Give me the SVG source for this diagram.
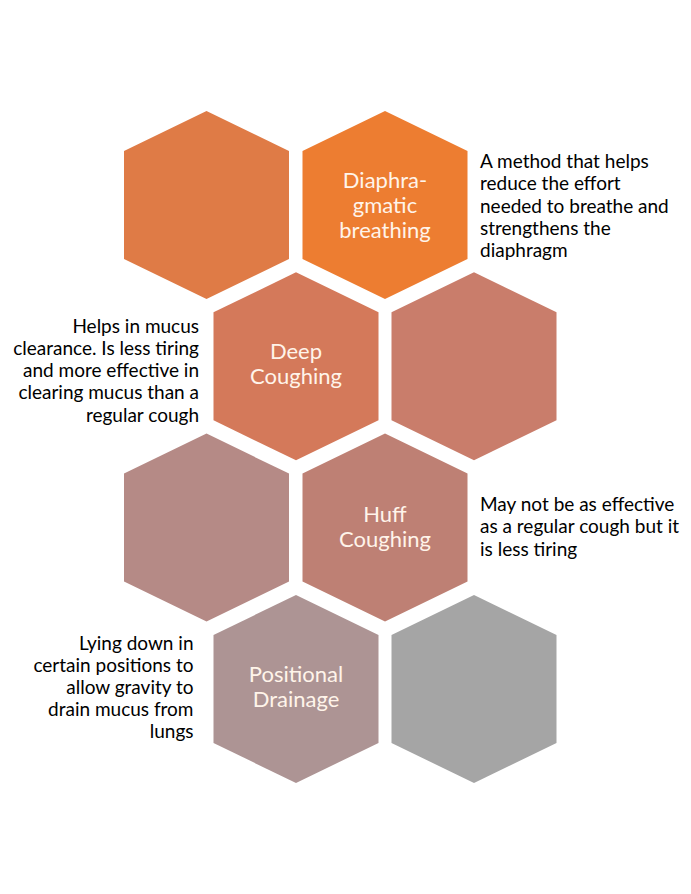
<svg xmlns="http://www.w3.org/2000/svg" width="691" height="894" viewBox="0 0 691 894">
<defs>
<polygon id="hex" points="0,-94 82.5,-54 82.5,54 0,94 -82.5,54 -82.5,-54"/>
</defs>
<style>
.lbl{font-family:Lato,"Open Sans",sans-serif;font-size:22px;fill:#FFF4EA;text-anchor:middle}
.desc{font-family:Lato,"Open Sans",sans-serif;font-size:19px;fill:#000}
.r{text-anchor:end}
</style>
<rect width="691" height="894" fill="#fff"/>
<g id="hex1"><use href="#hex" x="206.5" y="205" fill="#DF7B46"/></g>
<g id="diaphragmatic">
<use href="#hex" x="385" y="205" fill="#ED7D31"/>
<text class="lbl" x="385" y="188">Diaphra-</text>
<text class="lbl" x="385" y="213">gmatic</text>
<text class="lbl" x="385" y="238">breathing</text>
</g>
<g id="deep">
<use href="#hex" x="296" y="366.3" fill="#D4795A"/>
<text class="lbl" x="296" y="358.5">Deep</text>
<text class="lbl" x="296" y="383.5">Coughing</text>
</g>
<g id="hex4"><use href="#hex" x="474" y="366.3" fill="#C97D6B"/></g>
<g id="hex5"><use href="#hex" x="206.5" y="527.6" fill="#B58A86"/></g>
<g id="huff">
<use href="#hex" x="385" y="527.6" fill="#BE8074"/>
<text class="lbl" x="385" y="521.5">Huff</text>
<text class="lbl" x="385" y="546.5">Coughing</text>
</g>
<g id="positional">
<use href="#hex" x="296" y="689" fill="#AD9494"/>
<text class="lbl" x="296" y="681.5">Positional</text>
<text class="lbl" x="296" y="706.5">Drainage</text>
</g>
<g id="hex8"><use href="#hex" x="474" y="689" fill="#A5A5A5"/></g>
<g id="desc1">
<text class="desc" x="480" y="168">A method that helps</text>
<text class="desc" x="480" y="190.3">reduce the effort</text>
<text class="desc" x="480" y="212.6">needed to breathe and</text>
<text class="desc" x="480" y="234.9">strengthens the</text>
<text class="desc" x="480" y="257.2">diaphragm</text>
</g>
<g id="desc2">
<text class="desc r" x="199" y="332.5">Helps in mucus</text>
<text class="desc r" x="199" y="354.8">clearance. Is less tiring</text>
<text class="desc r" x="199" y="377.1">and more effective in</text>
<text class="desc r" x="199" y="399.4">clearing mucus than a</text>
<text class="desc r" x="199" y="421.7">regular cough</text>
</g>
<g id="desc3">
<text class="desc" x="480" y="511">May not be as effective</text>
<text class="desc" x="480" y="533.3">as a regular cough but it</text>
<text class="desc" x="480" y="555.6">is less tiring</text>
</g>
<g id="desc4">
<text class="desc r" x="193.5" y="650">Lying down in</text>
<text class="desc r" x="193.5" y="672">certain positions to</text>
<text class="desc r" x="193.5" y="694">allow gravity to</text>
<text class="desc r" x="193.5" y="716">drain mucus from</text>
<text class="desc r" x="193.5" y="738">lungs</text>
</g>
<g id="connectors"></g>
</svg>
